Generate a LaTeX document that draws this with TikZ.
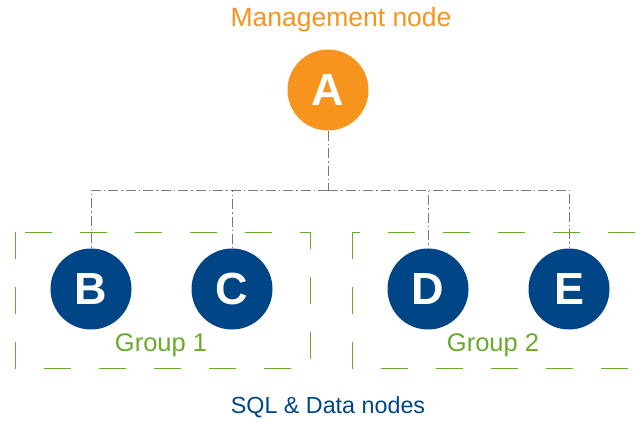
\documentclass[tikz,border=0pt]{standalone}
\usepackage{fontspec}
\setmainfont{Liberation Sans}
\definecolor{mgmtorange}{RGB}{247,148,29}
\definecolor{datablue}{RGB}{0,70,135}
\definecolor{groupgreen}{RGB}{106,170,42}
\definecolor{linkgray}{RGB}{120,120,120}
\begin{document}
\begin{tikzpicture}[x=1pt,y=-1pt,
  mgmt/.style={circle,fill=mgmtorange,minimum size=81pt,inner sep=0pt,text=white,font=\fontsize{45}{45}\selectfont\bfseries},
  datanode/.style={circle,fill=datablue,minimum size=81pt,inner sep=0pt,text=white,font=\fontsize{45}{45}\selectfont\bfseries},
  groupbox/.style={draw=groupgreen,line width=1pt,dash pattern=on 27pt off 28pt},
  grouplabel/.style={text=groupgreen,font=\fontsize{25.5}{25.5}\selectfont},
  link/.style={draw=linkgray,line width=1pt,dash pattern=on 10pt off 3pt on 1.5pt off 3pt}
]
\useasboundingbox (0,0) rectangle (636,421);
\clip (0,0) rectangle (636,421);

% group frames
\draw[groupbox] (15,232) rectangle (310,368);
\draw[groupbox] (352,232) rectangle (660,368);
\node[grouplabel] (g1) at (161,345) {Group 1};
\node[grouplabel] (g2) at (493,345) {Group 2};

% nodes
\node[mgmt] (A) at (328,90) {A};
\node[datanode] (B) at (91,289) {B};
\node[datanode] (C) at (232,289) {C};
\node[datanode] (D) at (428,289) {D};
\node[datanode] (E) at (569,289) {E};

% captions
\node[text=mgmtorange,font=\fontsize{26.5}{26.5}\selectfont] (mtitle) at (341,20) {Management node};
\node[text=datablue,font=\fontsize{23.3}{23.3}\selectfont] (dtitle) at (328,407) {SQL \& Data nodes};

% bus connectors
\coordinate (bus) at (328,190);
\draw[link] (A) -- (bus);
\draw[link] (bus) -| (B);
\draw[link] (bus) -| (C);
\draw[link] (bus) -| (D);
\draw[link] (bus) -| (E);
\end{tikzpicture}
\end{document}
